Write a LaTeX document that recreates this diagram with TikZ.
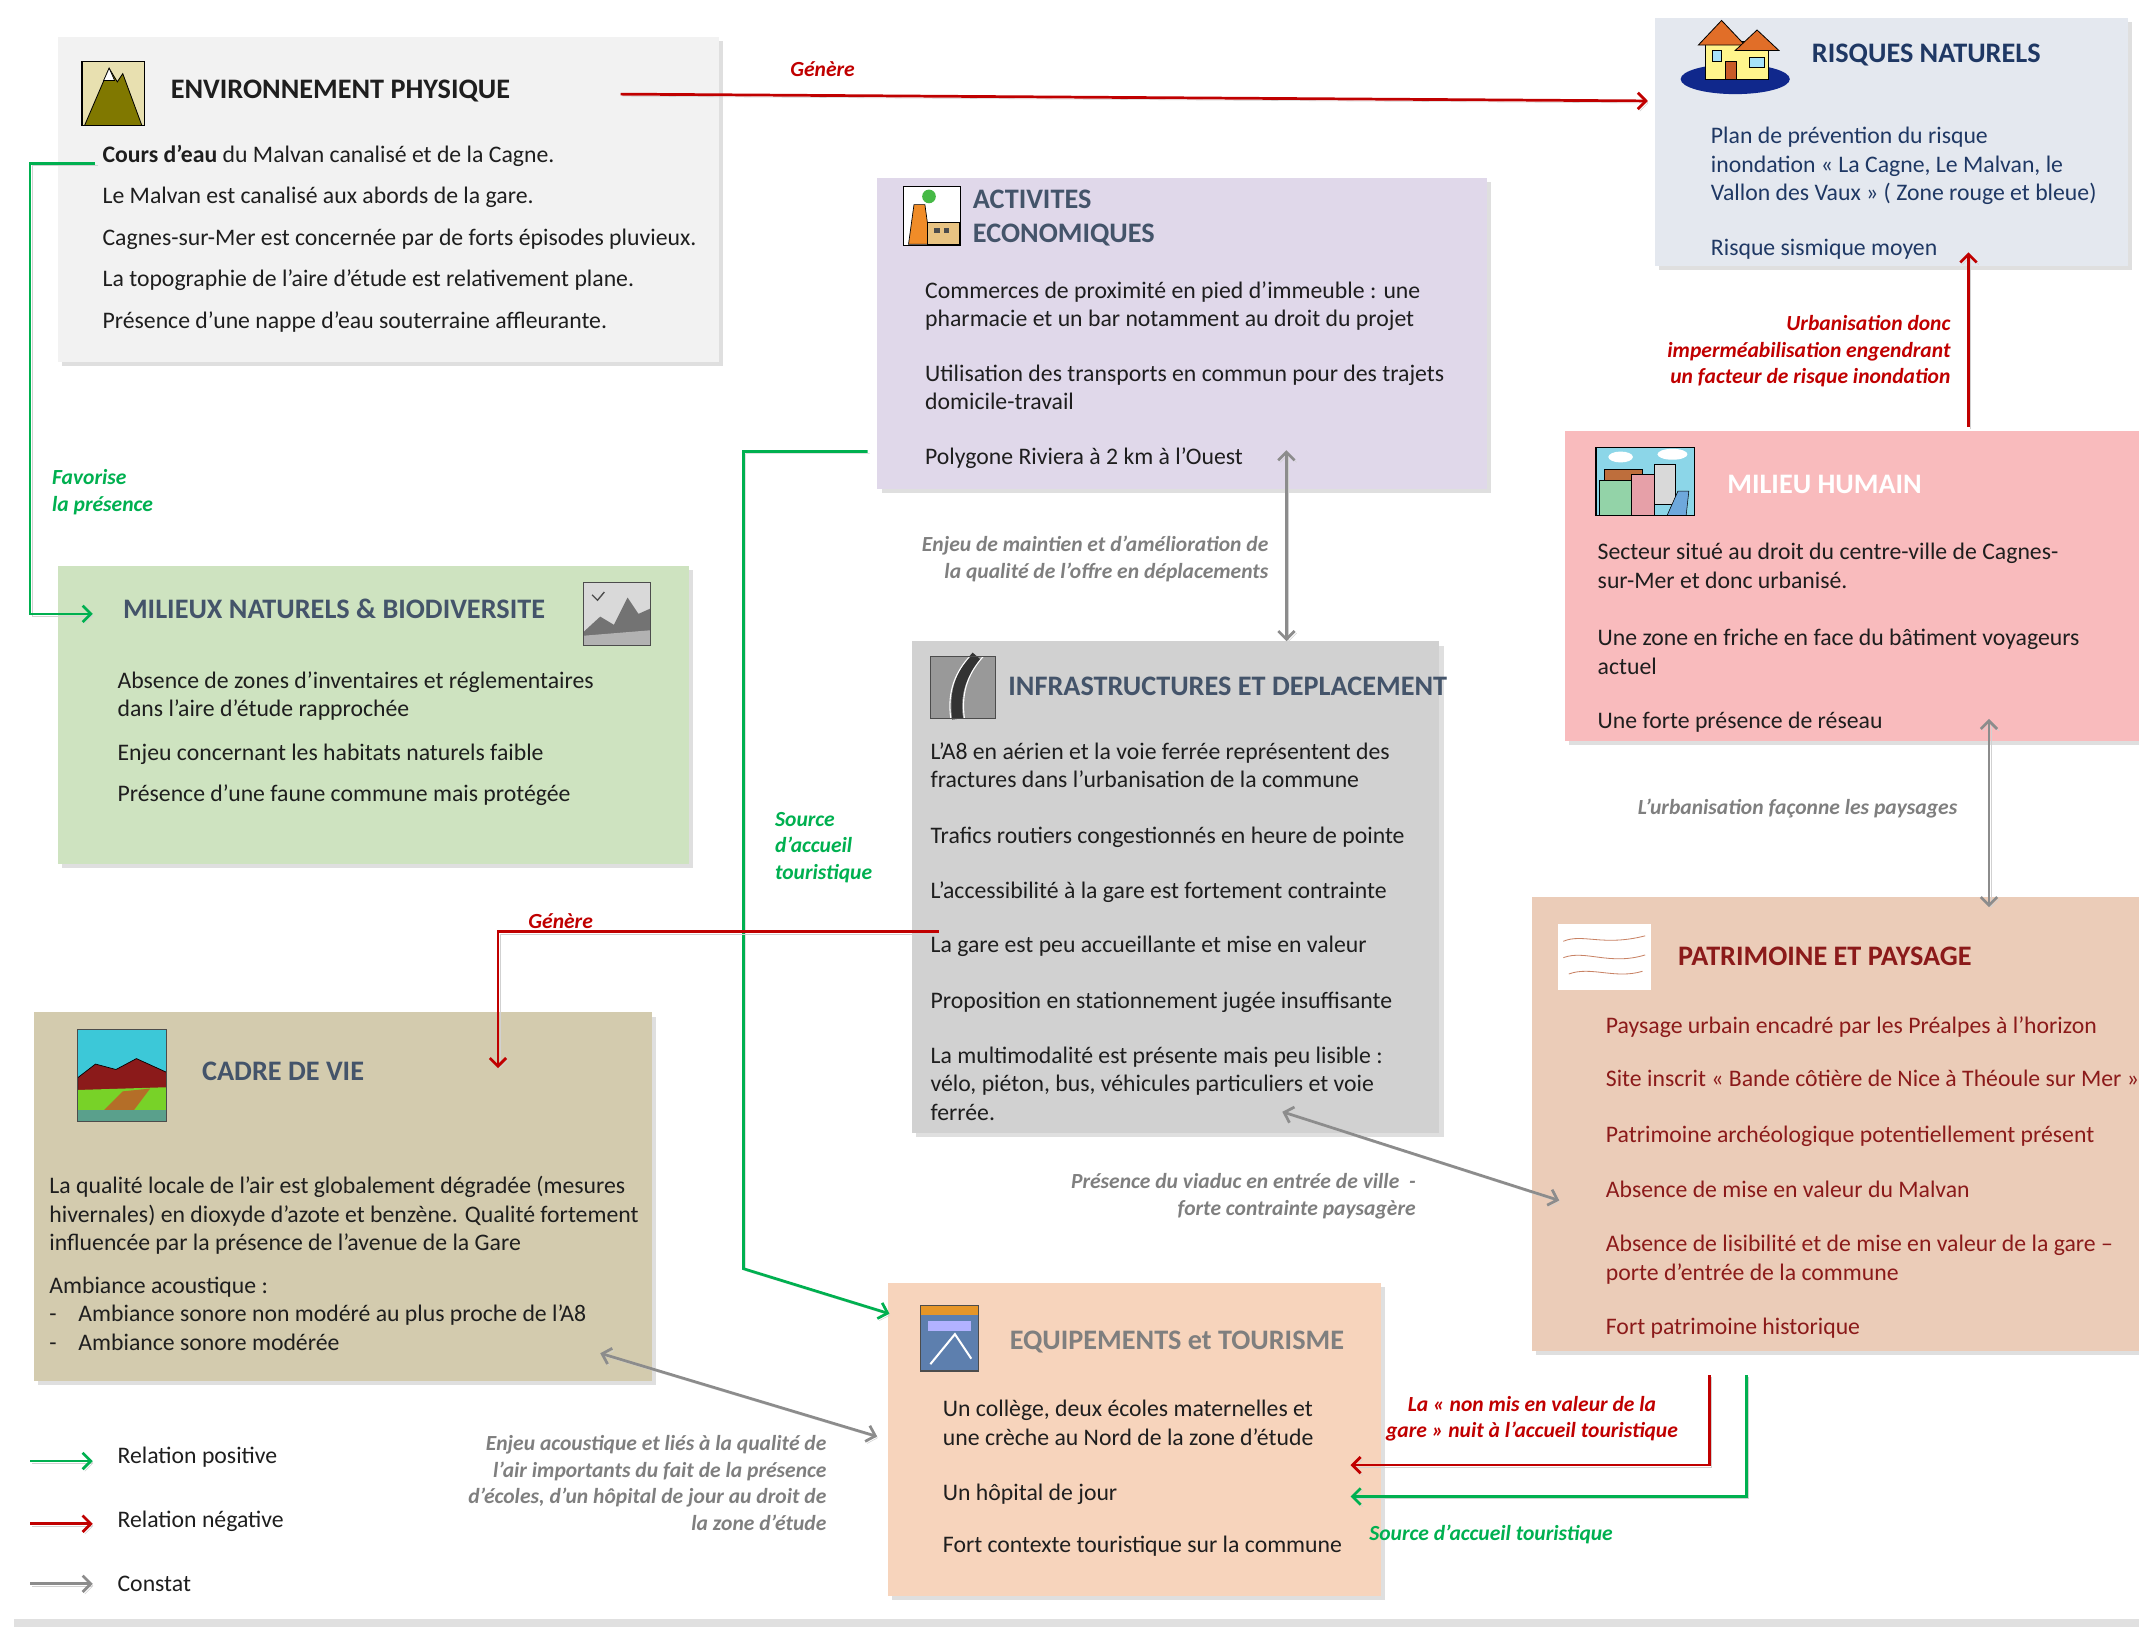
\documentclass[tikz,border=0pt]{standalone}
\usepackage{fontspec}
\setmainfont{Carlito}
\usetikzlibrary{arrows.meta,shadows,positioning}

% Kolory ramek, tekstów i relacji
\definecolor{envfill}{HTML}{F2F2F2}
\definecolor{riskfill}{HTML}{E4E8EF}
\definecolor{actfill}{HTML}{E0D8EA}
\definecolor{humfill}{HTML}{F9BBBD}
\definecolor{natfill}{HTML}{CEE3C0}
\definecolor{infrafill}{HTML}{D1D1D1}
\definecolor{cadrefill}{HTML}{D3CBAE}
\definecolor{patrfill}{HTML}{EBCCB8}
\definecolor{equipfill}{HTML}{F7D4BC}
\definecolor{slate}{HTML}{44546A}
\definecolor{navy}{HTML}{1F3864}
\definecolor{bordeaux}{HTML}{8B1A1A}
\definecolor{ink}{HTML}{1E1E1E}
\definecolor{relgreen}{HTML}{00B050}
\definecolor{relred}{HTML}{C00000}
\definecolor{relgray}{HTML}{8C8C8C}
\definecolor{notegray}{HTML}{7F7F7F}
% Kolory ikon
\definecolor{mtnbg}{HTML}{E8E0B0}
\definecolor{mtn}{HTML}{807800}
\definecolor{flood}{HTML}{10288C}
\definecolor{wall}{HTML}{FFF58C}
\definecolor{roof}{HTML}{E16E28}
\definecolor{door}{HTML}{C85A28}
\definecolor{chimney}{HTML}{F08C28}
\definecolor{factory}{HTML}{E8C382}
\definecolor{sky}{HTML}{8CD6E8}
\definecolor{cityroof}{HTML}{BE6E3C}
\definecolor{citygreen}{HTML}{93D3A8}
\definecolor{citypink}{HTML}{E6A0A8}
\definecolor{river}{HTML}{6EA8DC}
\definecolor{lagoon}{HTML}{3CC8D8}
\definecolor{meadow}{HTML}{78D228}
\definecolor{path}{HTML}{B46E28}
\definecolor{shore}{HTML}{5AA08C}
\definecolor{sketch}{HTML}{C88264}
\definecolor{cover}{HTML}{5D7FAE}
\definecolor{coverband}{HTML}{E69628}

\begin{document}
\begin{tikzpicture}[
    x=1pt, y=-1pt,
    box/.style={anchor=north west, inner sep=0pt, drop shadow={shadow xshift=3pt, shadow yshift=-3pt, opacity=0.25}},
    heading/.style={anchor=west, inner sep=0pt, font=\fontsize{20.7}{25}\selectfont\bfseries, text=slate},
    body/.style={anchor=north west, inner sep=0pt, align=left, font=\fontsize{17.4}{21}\selectfont, text=ink},
    note/.style={inner sep=0pt, font=\fontsize{15.8}{19.5}\selectfont\bfseries\itshape},
    link/.style={line width=2pt, preaction={draw=black!18, transform canvas={xshift=1.5pt, yshift=-1.5pt}}},
    positive/.style={link, draw=relgreen, -{Straight Barb[length=6pt, width=12pt]}},
    negative/.style={link, draw=relred, -{Straight Barb[length=6pt, width=12pt]}},
    finding/.style={link, draw=relgray, {Straight Barb[length=6pt, width=12pt]}-{Straight Barb[length=6pt, width=12pt]}}
]
\useasboundingbox (0,0) rectangle (1568,1193);

% Pasek u dołu strony
\fill[black!12] (10,1187) rectangle (1568,1193);

% Ramki tematów
\node[box, fill=envfill, minimum width=485, minimum height=238] (env) at (42,27) {};
\node[box, fill=riskfill, minimum width=347, minimum height=182] (risk) at (1213,13) {};
\node[box, fill=actfill, minimum width=447, minimum height=228] (act) at (643,130) {};
\node[box, fill=humfill, minimum width=430, minimum height=227] (hum) at (1147,316) {};
\node[box, fill=natfill, minimum width=463, minimum height=218] (nat) at (42,415) {};
\node[box, fill=infrafill, minimum width=387, minimum height=360] (infra) at (668,470) {};
\node[box, fill=cadrefill, minimum width=453, minimum height=270] (cadre) at (25,742) {};
\node[box, fill=patrfill, minimum width=460, minimum height=333] (patr) at (1123,657) {};
\node[box, fill=equipfill, minimum width=361, minimum height=230] (equip) at (651,940) {};

% Ikony tematów
% -- góry
\fill[mtnbg] (60,45) rectangle (106,92);
\filldraw[fill=mtn, draw=black, line width=0.6pt] (62,92) -- (80,50) -- (86,60) -- (90,54) -- (104,92) -- cycle;
\filldraw[fill=white, draw=black, line width=0.5pt] (76,59) -- (80,50) -- (84,59) -- cycle;
\draw[line width=1.2pt] (60,45) rectangle (106,92);
% -- dom w wodzie
\fill[flood] (1272,58) ellipse [x radius=40, y radius=11];
\filldraw[fill=wall, draw=black, line width=0.6pt] (1250,30) rectangle (1296,58);
\filldraw[fill=roof, draw=black, line width=0.6pt] (1245,33) -- (1262,15) -- (1279,33) -- cycle;
\filldraw[fill=roof, draw=black, line width=0.6pt] (1272,37) -- (1288,22) -- (1304,37) -- cycle;
\filldraw[fill=cyan!35, draw=black, line width=0.4pt] (1255,37) rectangle (1262,45);
\filldraw[fill=cyan!35, draw=black, line width=0.4pt] (1282,42) rectangle (1293,49);
\filldraw[fill=door, draw=black, line width=0.4pt] (1265,45) rectangle (1273,58);
% -- fabryka
\draw[fill=white, line width=0.6pt] (662,137) rectangle (704,180);
\fill[green!45!gray] (681,144) circle (5);
\filldraw[fill=chimney, draw=black, line width=0.5pt] (666,179) -- (670,150) -- (678,150) -- (682,179) -- cycle;
\filldraw[fill=factory, draw=black, line width=0.5pt] (680,163) rectangle (703,179);
\fill[black!70] (685,167) rectangle (689,171);
\fill[black!70] (692,167) rectangle (696,171);
% -- miasto
\fill[sky] (1170,328) rectangle (1242,378);
\fill[white] (1188,335) ellipse [x radius=9, y radius=4];
\fill[white] (1226,333) ellipse [x radius=11, y radius=4];
\filldraw[fill=cityroof, draw=black, line width=0.4pt] (1176,344) rectangle (1204,352);
\filldraw[fill=citygreen, draw=black, line width=0.4pt] (1172,352) rectangle (1196,378);
\filldraw[fill=citypink, draw=black, line width=0.4pt] (1196,348) rectangle (1213,378);
\filldraw[fill=black!15, draw=black, line width=0.4pt] (1213,340) rectangle (1228,370);
\filldraw[fill=river, draw=black, line width=0.4pt] (1222,378) -- (1230,360) -- (1238,360) -- (1236,378) -- cycle;
\draw[line width=1pt] (1170,328) rectangle (1242,378);
% -- krajobraz naturalny
\fill[black!15] (428,427) rectangle (477,473);
\fill[black!55] (428,463) -- (440,452) -- (450,458) -- (460,438) -- (468,450) -- (477,446) -- (477,473) -- (428,473) -- cycle;
\fill[black!30] (428,466) -- (477,462) -- (477,473) -- (428,473) -- cycle;
\draw[black!70, line width=1pt] (434,436) -- (438,440) -- (443,434);
\draw[black!70, line width=0.8pt] (428,427) rectangle (477,473);
% -- droga
\fill[black!40] (682,481) rectangle (730,527);
\draw[black!80, line width=8pt] (702,527) .. controls (699,506) and (706,492) .. (716,481);
\draw[white, line width=0.8pt] (697,527) .. controls (694,506) and (701,492) .. (711,481);
\draw[white, line width=0.8pt] (707,527) .. controls (704,506) and (711,492) .. (721,481);
\draw[black!70, line width=0.8pt] (682,481) rectangle (730,527);
% -- pejzaż
\fill[lagoon] (57,755) rectangle (122,822);
\filldraw[fill=bordeaux, draw=black, line width=0.5pt] (57,790) -- (70,780) -- (85,784) -- (100,776) -- (122,786) -- (122,798) -- (57,800) -- cycle;
\fill[meadow] (57,799) -- (122,797) -- (122,814) -- (57,814) -- cycle;
\fill[path] (76,814) -- (90,800) -- (110,798) -- (98,814) -- cycle;
\fill[shore] (57,814) rectangle (122,822);
\draw[black!70, line width=0.8pt] (57,755) rectangle (122,822);
% -- szkic krajobrazu
\fill[white] (1142,677) rectangle (1210,726);
\draw[sketch, line width=0.6pt] (1146,690) .. controls (1160,684) and (1175,694) .. (1206,686);
\draw[sketch, line width=0.6pt] (1146,702) .. controls (1162,696) and (1180,708) .. (1206,700);
\draw[sketch, line width=0.6pt] (1150,714) .. controls (1166,708) and (1184,718) .. (1204,712);
% -- okładka
\fill[cover] (675,957) rectangle (717,1005);
\fill[coverband] (675,957) rectangle (717,964);
\fill[white!70!blue] (680,968) rectangle (712,976);
\draw[white, line width=1.5pt] (682,1000) -- (700,978) -- (712,996);
\draw[black!70, line width=0.8pt] (675,957) rectangle (717,1005);

% Tytuły tematów
\node[heading, text=ink] (envtitle) at (125,67) {ENVIRONNEMENT PHYSIQUE};
\node[heading, text=navy] (risktitle) at (1328,40) {RISQUES NATURELS};
\node[heading, anchor=north west, align=left] (acttitle) at (713,139) {ACTIVITES\\ECONOMIQUES};
\node[heading, text=white] (humtitle) at (1266,355) {MILIEU HUMAIN};
\node[heading] (nattitle) at (90,446) {MILIEUX NATURELS \& BIODIVERSITE};
\node[heading] (infratitle) at (739,503) {INFRASTRUCTURES ET DEPLACEMENT};
\node[heading] (cadretitle) at (148,785) {CADRE DE VIE};
\node[heading, text=bordeaux] (patrtitle) at (1230,701) {PATRIMOINE ET PAYSAGE};
\node[heading, text=notegray] (equiptitle) at (740,984) {EQUIPEMENTS et TOURISME};

% Treść tematów
\node[body] (envtxt) at (75,106) {\textbf{Cours d’eau} du Malvan canalisé et de la Cagne.\\[9.5pt]
    Le Malvan est canalisé aux abords de la gare.\\[9.5pt]
    Cagnes-sur-Mer est concernée par de forts épisodes pluvieux.\\[9.5pt]
    La topographie de l’aire d’étude est relativement plane.\\[9.5pt]
    Présence d’une nappe d’eau souterraine affleurante.};
\node[body, text=navy] (risktxt) at (1254,93) {Plan de prévention du risque\\
    inondation « La Cagne, Le Malvan, le\\
    Vallon des Vaux » ( Zone rouge et bleue)\\[19pt]
    Risque sismique moyen};
\node[body] (acttxt) at (678,206) {Commerces de proximité en pied d’immeuble : une\\
    pharmacie et un bar notamment au droit du projet\\[19pt]
    Utilisation des transports en commun pour des trajets\\
    domicile-travail\\[19pt]
    Polygone Riviera à 2 km à l'Ouest};
\node[body] (humtxt) at (1171,398) {Secteur situé au droit du centre-ville de Cagnes-\\
    sur-Mer et donc urbanisé.\\[21pt]
    Une zone en friche en face du bâtiment voyageurs\\
    actuel\\[18.5pt]
    Une forte présence de réseau};
\node[body] (nattxt) at (86,492) {Absence de zones d’inventaires et réglementaires\\
    dans l’aire d’étude rapprochée\\[11pt]
    Enjeu concernant les habitats naturels faible\\[9pt]
    Présence d’une faune commune mais protégée};
\node[body] (infratxt) at (682,544) {L’A8 en aérien et la voie ferrée représentent des\\
    fractures dans l’urbanisation de la commune\\[20pt]
    Trafics routiers congestionnés en heure de pointe\\[19pt]
    L’accessibilité à la gare est fortement contrainte\\[19pt]
    La gare est peu accueillante et mise en valeur\\[20pt]
    Proposition en stationnement jugée insuffisante\\[19pt]
    La multimodalité est présente mais peu lisible :\\
    vélo, piéton, bus, véhicules particuliers et voie\\
    ferrée.};
\node[body] (cadretxt) at (36,862) {La qualité locale de l’air est globalement dégradée (mesures\\
    hivernales) en dioxyde d’azote et benzène. Qualité fortement\\
    influencée par la présence de l’avenue de la Gare\\[10pt]
    Ambiance acoustique :\\
    -\hspace{16pt}Ambiance sonore non modéré au plus proche de l’A8\\
    -\hspace{16pt}Ambiance sonore modérée};
\node[body, text=bordeaux] (patrtxt) at (1177,745) {Paysage urbain encadré par les Préalpes à l’horizon\\[18pt]
    Site inscrit « Bande côtière de Nice à Théoule sur Mer »\\[20pt]
    Patrimoine archéologique potentiellement présent\\[19pt]
    Absence de mise en valeur du Malvan\\[19pt]
    Absence de lisibilité et de mise en valeur de la gare –\\
    porte d’entrée de la commune\\[19pt]
    Fort patrimoine historique};
\node[body] (equiptxt) at (691,1026) {Un collège, deux écoles maternelles et\\
    une crèche au Nord de la zone d’étude\\[20pt]
    Un hôpital de jour\\[17pt]
    Fort contexte touristique sur la commune};

% Punkty zaczepienia strzałek
\coordinate (envout) at (455,69);
\coordinate (riskin) at (1208,74);
\coordinate (envcours) at (70,120);
\coordinate (natin) at (68,450);
\coordinate (actpoly) at (636,331);
\coordinate (equipin) at (652,963);
\coordinate (infragare) at (688,683);
\coordinate (cadrein) at (365,783);
\coordinate (humtop) at (1443,313);
\coordinate (riskbot) at (1443,185);
\coordinate (actbot) at (943,330);
\coordinate (infratop) at (943,470);
\coordinate (humbot) at (1458,527);
\coordinate (patrtop) at (1458,665);
\coordinate (infrabot) at (940,815);
\coordinate (patrleft) at (1143,880);
\coordinate (cadreright) at (440,992);
\coordinate (equipleft) at (643,1053);
\coordinate (patrbotA) at (1253,1008);
\coordinate (patrbotB) at (1280,1008);
\coordinate (equipA) at (990,1074);
\coordinate (equipB) at (990,1097);

% Relacje między tematami
\draw[negative] (envout) -- (riskin);
\draw[positive] (envcours) -- ++(-48,0) |- (natin);
\draw[positive] (actpoly) -- ++(-91,0) -- ++(0,599) -- (equipin);
\draw[negative] (infragare) -| (cadrein);
\draw[negative] (humtop) -- (riskbot);
\draw[finding] (actbot) -- (infratop);
\draw[finding] (humbot) -- (patrtop);
\draw[finding] (infrabot) -- (patrleft);
\draw[finding] (cadreright) -- (equipleft);
\draw[negative] (patrbotA) |- (equipA);
\draw[positive] (patrbotB) |- (equipB);

% Opisy relacji
\node[note, text=relred] (genere1) at (603,51) {Génère};
\node[note, text=relgreen, anchor=north west, align=left] (favorise) at (38,344) {Favorise\\la présence};
\node[note, text=relred, anchor=north east, align=right] (urbanis) at (1430,231) {Urbanisation donc\\imperméabilisation engendrant\\un facteur de risque inondation};
\node[note, text=notegray, anchor=north east, align=right] (enjeudep) at (930,393) {Enjeu de maintien et d’amélioration de\\la qualité de l’offre en déplacements};
\node[note, text=relgreen, anchor=north west, align=left] (source1) at (568,595) {Source\\d’accueil\\touristique};
\node[note, text=relred] (genere2) at (411,675) {Génère};
\node[note, text=notegray, anchor=east] (faconne) at (1435,593) {L’urbanisation façonne les paysages};
\node[note, text=notegray, anchor=north east, align=right] (viaduc) at (1038,860) {Présence du viaduc en entrée de ville~~-\\forte contrainte paysagère};
\node[note, text=notegray, anchor=north east, align=right] (enjeuac) at (606,1052) {Enjeu acoustique et liés à la qualité de\\l’air importants du fait de la présence\\d’écoles, d’un hôpital de jour au droit de\\la zone d’étude};
\node[note, text=relred, align=center] (nonmis) at (1123,1040) {La « non mis en valeur de la\\gare » nuit à l’accueil touristique};
\node[note, text=relgreen] (source2) at (1093,1125) {Source d’accueil touristique};

% Legenda
\coordinate (legp) at (22,1071);
\coordinate (legn) at (22,1117);
\coordinate (lego) at (22,1161);
\draw[positive] (legp) -- ++(46,0);
\draw[negative] (legn) -- ++(46,0);
\draw[link, draw=relgray, -{Straight Barb[length=6pt, width=12pt]}] (lego) -- ++(46,0);
\node[body, anchor=west] (legpos) at (86,1068) {Relation positive};
\node[body, anchor=west] (legneg) at (86,1115) {Relation négative};
\node[body, anchor=west] (legobs) at (86,1161) {Constat};

\end{tikzpicture}
\end{document}
